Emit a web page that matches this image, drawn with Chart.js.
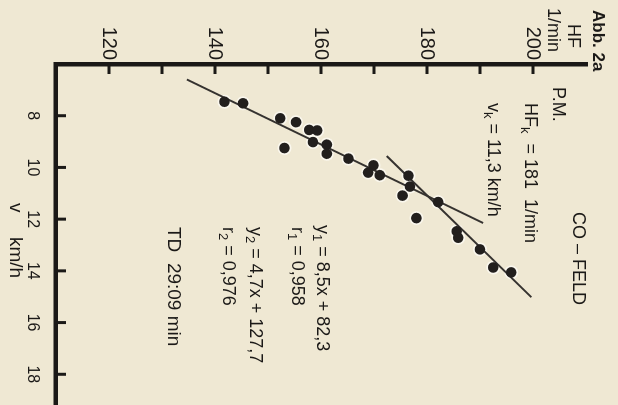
<!DOCTYPE html>
<html>
<head>
<meta charset="utf-8">
<script src="https://cdn.jsdelivr.net/npm/chart.js@4/dist/chart.umd.min.js"></script>
<style>
  html, body { margin: 0; padding: 0; }
  body { width: 618px; height: 405px; overflow: hidden; background: #efe8d3; position: relative; }
  /* the figure is laid out upright and then turned a quarter turn clockwise */
  #sheet {
    position: absolute; left: 0; top: 0;
    width: 440px; height: 618px;
    transform-origin: 0 0;
    transform: translate(618px, 0) rotate(90deg);
  }
  canvas { display: block; }
</style>
</head>
<body>
<div id="sheet"><canvas id="chart" width="440" height="618"></canvas></div>
<script>
// Field test (CO-Feld): running speed vs. heart rate
const speedKmh  = [7.46, 7.52, 8.10, 8.25, 8.55, 8.57, 9.02, 9.12, 9.47, 9.25, 9.66, 9.92,
                   10.20, 10.30, 10.32, 10.74, 11.09, 11.34, 11.96, 12.47, 12.72, 13.17, 13.87, 14.06];
const heartRate = [141.8, 145.3, 152.3, 155.3, 157.8, 159.3, 158.5, 161.1, 161.1, 153.1, 165.2, 169.9,
                   168.9, 171.1, 176.5, 176.8, 175.4, 182.1, 178.0, 185.6, 185.9, 190.0, 192.5, 195.9];

// regression lines, lower and upper speed range (end points)
const fit1Speed = [6.6, 12.15];
const fit1HR    = [134.7, 190.6];
const fit2Speed = [9.56, 15.02];
const fit2HR    = [172.4, 199.7];

// axis ticks
const speedTicks = [8, 10, 12, 14, 16, 18];
const hrTicks    = [120, 130, 140, 150, 160, 170, 180, 190, 200];
const hrLabels   = [120, 140, 160, 180, 200];

const INK = '#1b1917';
const FONT = '"Liberation Sans", Arial, Helvetica, sans-serif';

const points = speedKmh.map((v, i) => ({ x: v, y: heartRate[i] }));
const line1 = fit1Speed.map((v, i) => ({ x: v, y: fit1HR[i] }));
const line2 = fit2Speed.map((v, i) => ({ x: v, y: fit2HR[i] }));

// text on the sheet: [x, y, parts, size, bold]
const notes = [
  [10, 20, [{t: 'Abb. 2a'}], 17, true],
  [24, 45, [{t: 'HF'}], 18],
  [8, 65, [{t: '1/min'}], 18],
  [87, 60, [{t: 'P.M.'}], 18],
  [103, 88, [{t: 'HF'}, {t: 'k', sub: true}, {t: '  = 181  1/min'}], 18],
  [103, 125, [{t: 'v'}, {t: 'k', sub: true}, {t: ' = 11,3 km/h'}], 18],
  [212, 40, [{t: 'CO \u2013 FELD'}], 18],
  [225, 296, [{t: 'y'}, {t: '1', sub: true}, {t: ' = 8,5x + 82,3'}], 18],
  [227, 321, [{t: 'r'}, {t: '1', sub: true}, {t: ' = 0,958'}], 18],
  [227, 363, [{t: 'y'}, {t: '2', sub: true}, {t: ' = 4,7x + 127,7'}], 18],
  [227, 390, [{t: 'r'}, {t: '2', sub: true}, {t: ' = 0,976'}], 18],
  [227, 445, [{t: 'TD  29:09 min'}], 19],
  [203, 603, [{t: 'v'}], 19],
  [237, 603, [{t: 'km/h'}], 19]
];

function drawParts(ctx, x, y, parts, size, bold) {
  let cx = x;
  for (const p of parts) {
    const fs = p.sub ? Math.round(size * 0.72) : size;
    ctx.font = (bold ? 'bold ' : '') + fs + 'px ' + FONT;
    ctx.fillText(p.t, cx, p.sub ? y + size * 0.32 : y);
    cx += ctx.measureText(p.t).width;
  }
}

const sheetText = {
  id: 'sheetText',
  afterDraw(chart) {
    const ctx = chart.ctx;
    ctx.save();
    ctx.fillStyle = INK;
    ctx.textBaseline = 'middle';
    ctx.textAlign = 'left';
    for (const [x, y, parts, size, bold] of notes) drawParts(ctx, x, y, parts, size, bold);
    ctx.restore();
  }
};

// short tick marks pointing into the plot
const inwardTicks = {
  id: 'inwardTicks',
  afterDraw(chart) {
    const {ctx, chartArea: a, scales: {x, y}} = chart;
    ctx.save();
    ctx.strokeStyle = INK;
    ctx.lineWidth = 3;
    ctx.beginPath();
    for (const v of speedTicks) {
      const px = x.getPixelForValue(v);
      ctx.moveTo(px, a.bottom); ctx.lineTo(px, a.bottom - 10);
    }
    for (const h of hrTicks) {
      const py = y.getPixelForValue(h);
      ctx.moveTo(a.left, py); ctx.lineTo(a.left + 10, py);
    }
    ctx.stroke();
    ctx.restore();
  }
};

new Chart(document.getElementById('chart'), {
  type: 'scatter',
  data: {
    datasets: [
      { data: points, order: 3, pointRadius: 7, pointBackgroundColor: 'rgba(251,249,241,0.85)',
        pointBorderWidth: 0 },
      { type: 'line', data: line1, order: 2, showLine: true, borderColor: '#35322f',
        borderWidth: 2, pointRadius: 0 },
      { type: 'line', data: line2, order: 2, showLine: true, borderColor: '#35322f',
        borderWidth: 2, pointRadius: 0 },
      { data: points, order: 1, pointRadius: 5.3, pointBackgroundColor: '#221f1d',
        pointBorderWidth: 0 }
    ]
  },
  options: {
    responsive: false,
    animation: false,
    devicePixelRatio: 1,
    layout: { padding: { top: 32, right: 10, left: 0, bottom: 0 } },
    plugins: { legend: { display: false }, tooltip: { enabled: false } },
    scales: {
      x: {
        type: 'linear', position: 'bottom', min: 6, max: 20,
        afterFit(s) { s.height = 56; },
        grid: { display: false, drawTicks: false },
        border: { display: true, color: INK, width: 4.5 },
        ticks: {
          stepSize: 2, padding: 14, color: INK, maxRotation: 0,
          font: { family: FONT, size: 16 },
          callback: v => speedTicks.includes(v) ? String(v) : ''
        }
      },
      y: {
        type: 'linear', position: 'left', min: 110, max: 210,
        afterFit(s) { s.width = 64; },
        grid: { display: false, drawTicks: false },
        border: { display: true, color: INK, width: 4.5 },
        ticks: {
          stepSize: 10, padding: 4, color: INK,
          font: { family: FONT, size: 20 },
          callback: v => hrLabels.includes(v) ? String(v) : ''
        }
      }
    }
  },
  plugins: [inwardTicks, sheetText]
});
</script>
</body>
</html>
